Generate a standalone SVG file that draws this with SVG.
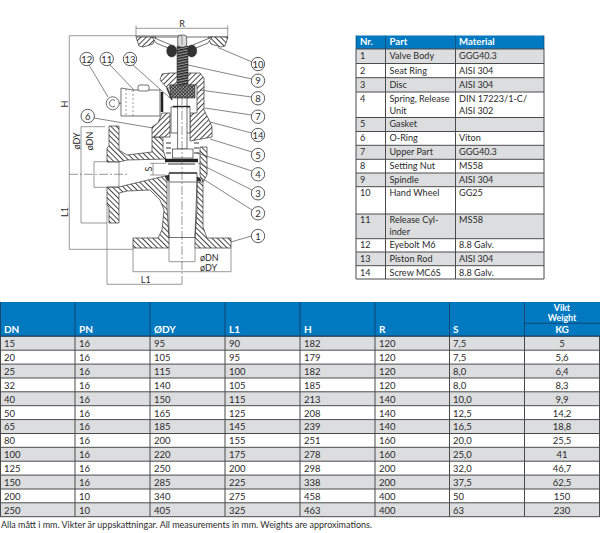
<svg xmlns="http://www.w3.org/2000/svg" width="600" height="533" viewBox="0 0 600 533">
<style>
text{font-family:Lato,"Noto Sans","Liberation Sans",sans-serif;font-size:9.5px;fill:#2b2b2b}
#parts-table text{font-size:9.1px}
#parts-table text.h{font-size:9.6px}
#dimension-labels text{font-size:9px}
.h{font-weight:700;fill:#fff;font-size:10px}
.v{font-size:8.8px}
.m{text-anchor:middle}
.g{fill:#dcdddf}
.hd{fill:#0079c1}
.gl{stroke:#4a4a4a;stroke-width:1;fill:none}
.hl{stroke:#12476e;stroke-width:1;fill:none}
.p{stroke:#333;stroke-width:.7;fill:none}
.d{stroke:#555;stroke-width:.6;fill:none}
.hb{fill:url(#hb);stroke:#333;stroke-width:.7}
.hf{fill:url(#hf);stroke:#333;stroke-width:.7}
.w{fill:#fff;stroke:#333;stroke-width:.7}
.k{fill:#333;stroke:#222;stroke-width:.5}
.c{fill:#fff;stroke:#333;stroke-width:.8}
.l{stroke:#333;stroke-width:.6;fill:none}
.a{stroke:#555;stroke-width:.6;stroke-dasharray:9 2 2 2;fill:none}
</style>
<defs>
<pattern id="hb" width="3.8" height="3.8" patternUnits="userSpaceOnUse" patternTransform="rotate(-45)"><rect width="3.8" height="3.8" fill="#fff"/><line x1=".5" y1="0" x2=".5" y2="3.8" stroke="#333" stroke-width=".9"/></pattern>
<pattern id="hf" width="3.8" height="3.8" patternUnits="userSpaceOnUse" patternTransform="rotate(45)"><rect width="3.8" height="3.8" fill="#fff"/><line x1=".5" y1="0" x2=".5" y2="3.8" stroke="#333" stroke-width=".9"/></pattern>
<pattern id="th" width="4" height="2.6" patternUnits="userSpaceOnUse" patternTransform="rotate(-12)"><rect width="4" height="2.6" fill="#999"/><rect width="4" height="1.4" fill="#222"/></pattern>
<pattern id="xh" width="2.4" height="2.4" patternUnits="userSpaceOnUse" patternTransform="rotate(45)"><rect width="2.4" height="2.4" fill="#aaa"/><rect width="1" height="2.4" fill="#333"/><rect width="2.4" height=".7" fill="#333"/></pattern>
</defs>
<rect width="600" height="533" fill="#fff"/>

<g id="valve">
<path class="hb" d="M109 126L119 126L119 150L127 155L152 152L152 137L163 137L163 150L166 159L127 160L119 162L107 162L107 148L109 146Z"/>
<path class="hb" d="M107 187L119 187L127 185L165 176L167 180L167 207L169 237L169 248L133 248L133 238L158 238L162 230L164 210L160 200L150 190L127 191L119 193L119 223L109 223L109 207L107 205Z"/>
<path class="hb" d="M197 182L203 182L203 227L207 238L231 238L231 248L195 248L195 237L197 210Z"/>
<path class="hb" d="M200 147L207 147L207 175L203 182L200 175Z"/>
<path class="hf" d="M162 74L170 73L200 73L204 78L204 110L210 122L212 127L212 137L190 141L190 113L197 113L197 85L170 85L170 88L167 88L160 80Z"/>
<path class="hf" d="M170 113L170 137L152 137L152 127L158 123L162 113Z"/>
<!-- handwheel -->
<path class="p" d="M136 37L228 37"/>
<path class="hf" d="M136 37L156 37L153 44L143 47L139 46Z"/>
<path class="hb" d="M228 37L208 37L211 44L221 47L225 46Z"/>
<path class="w" d="M152 37L171 45L175 50L168 48L156 43Z"/>
<path class="w" d="M212 37L193 45L189 50L196 48L208 43Z"/>
<ellipse class="k" cx="171.700" cy="51" rx="5" ry="6"/>
<ellipse class="k" cx="191.700" cy="51" rx="5" ry="6"/>
<rect x="177" y="46" width="11" height="52" fill="url(#th)" stroke="#222" stroke-width=".5"/>
<rect class="w" x="177.700" y="35" width="9" height="12" rx="3" style="fill:#ddd"/>
<!-- setting nut -->
<rect x="170" y="85" width="25" height="13" fill="url(#xh)" stroke="#333" stroke-width=".6"/>
<!-- stem -->
<rect class="w" x="171" y="107" width="19" height="26"/>
<rect class="w" x="177.700" y="98" width="9.300" height="51"/>
<path d="M173 106.500L190 106.500" stroke="#222" stroke-width="1.400"/>
<!-- spring -->
<g stroke="#333" stroke-width="1.200" fill="none"><path d="M166 143h5M166 148h5M166 153h5M194 143h5M194 148h5M194 153h5"/></g>
<rect class="w" x="172.500" y="149" width="20.500" height="9"/>
<path d="M165 160.500L198 160.500" stroke="#222" stroke-width="3.400"/>
<path d="M168 164L195 164" stroke="#333" stroke-width="1"/>
<!-- seat -->
<path class="w" d="M169 173L197 173L197 182L169 182Z"/>
<path d="M169 173L197 173" stroke="#222" stroke-width="1.200"/>
<path class="k" d="M165 176L169 175L169 181L167 180Z"/>
<path class="k" d="M197 177L200 178L201 181L197 181Z"/>
<path class="p" d="M169 182L169 237M197 182L195 237M169 237.500L195 237.500"/>
<!-- cylinder -->
<path class="w" d="M121 88L133 90L160 90L160 116L133 116L121 116Z"/>
<path class="d" d="M133 90L133 116" stroke-dasharray="2 2"/>
<path class="d" d="M126 89L126 116" stroke-dasharray="2 2"/>
<rect class="w" x="138" y="85" width="11" height="6" rx="2"/>
<path d="M162 92L162 112" stroke="#222" stroke-width="2.500"/>
<path d="M167 88L172 100" stroke="#333" stroke-width="1.500"/>
<circle class="w" cx="112.700" cy="103.300" r="6.500"/>
<path class="p" d="M115 100.500A3.500 3.500 0 1 0 115 106"/>
<path class="p" d="M119 103.300L121 103.300"/>
</g>

<g id="connectors">
<path class="a" d="M182 36L182 284"/>
<path class="a" d="M69 174.300L127 174.300"/>
<path class="d" d="M136 28.300L227.700 28.300M136 25.500L136 37M227.700 25.500L227.700 37"/>
<path class="d" d="M69.300 35.700L182 35.700M69.300 35.700L69.300 249.300M69.300 249.300L133 249.300"/>
<path class="d" d="M81 126.700L81 223M81 126.700L105 126.700M81 223L107 223"/>
<path class="d" d="M94 161.700L94 187.300M94 161.700L119 161.700M94 187.300L119 187.300"/>
<path class="d" d="M119 162L119 187"/>
<path class="d" d="M150 163.300L166 163.300M150 175L166 175M153 163.300L153 175"/>
<path class="d" d="M169 248L169 261.700M195 248L195 261.700M169 261.700L195 261.700"/>
<path class="d" d="M133 248L133 271.700M231 248L231 271.700M133 271.700L231 271.700"/>
<path class="d" d="M107 205L107 284.300M107 284.300L182 284.300"/>
<path class="l" d="M252 62L218 47.500M252 79L188 65M251.500 97L200 90M251.500 115L205 108M251.500 133L210 122M252 152L210 139M252 171L197 153M252 190L198 163M252 210L200 177M251.500 236L231 242M89 65L108 97M110 65L134 90M133 65L170 98M94 118L153 128"/>
</g>

<g id="dimension-labels">
<text x="182" y="26.500" class="m">R</text>
<text transform="translate(68 104) rotate(-90)" class="m">H</text>
<text transform="translate(68 212) rotate(-90)" class="m">L1</text>
<text transform="translate(80 141) rotate(-90)" class="m">øDY</text>
<text transform="translate(93 141) rotate(-90)" class="m">øDN</text>
<text transform="translate(152 169) rotate(-90)" class="m">S</text>
<text x="200" y="260.500">øDN</text>
<text x="200" y="270.500">øDY</text>
<text x="145.700" y="282.500" class="m">L1</text>
</g>

<g id="callout-1"><circle class="c" cx="258" cy="236" r="6.700"/><text x="258" y="239.500" class="m">1</text></g>
<g id="callout-2"><circle class="c" cx="258" cy="213.300" r="6.700"/><text x="258" y="216.800" class="m">2</text></g>
<g id="callout-3"><circle class="c" cx="258" cy="193.300" r="6.700"/><text x="258" y="196.800" class="m">3</text></g>
<g id="callout-4"><circle class="c" cx="258" cy="174.300" r="6.700"/><text x="258" y="177.800" class="m">4</text></g>
<g id="callout-5"><circle class="c" cx="258" cy="155" r="6.700"/><text x="258" y="158.500" class="m">5</text></g>
<g id="callout-14"><circle class="c" cx="258" cy="135" r="6.700"/><text x="258" y="138.500" class="m">14</text></g>
<g id="callout-7"><circle class="c" cx="258" cy="116.700" r="6.700"/><text x="258" y="120.200" class="m">7</text></g>
<g id="callout-8"><circle class="c" cx="258" cy="98.300" r="6.700"/><text x="258" y="101.800" class="m">8</text></g>
<g id="callout-9"><circle class="c" cx="258" cy="80.700" r="6.700"/><text x="258" y="84.200" class="m">9</text></g>
<g id="callout-10"><circle class="c" cx="258" cy="64" r="6.700"/><text x="258" y="67.500" class="m">10</text></g>
<g id="callout-12"><circle class="c" cx="86.700" cy="59" r="6.700"/><text x="86.700" y="62.500" class="m">12</text></g>
<g id="callout-11"><circle class="c" cx="106.700" cy="59" r="6.700"/><text x="106.700" y="62.500" class="m">11</text></g>
<g id="callout-13"><circle class="c" cx="130" cy="59" r="6.700"/><text x="130" y="62.500" class="m">13</text></g>
<g id="callout-6"><circle class="c" cx="87.700" cy="116" r="6.700"/><text x="87.700" y="119.500" class="m">6</text></g>

<g id="parts-table">
<rect class="hd" x="356" y="35.500" width="188" height="13.500"/>
<rect class="g" x="356" y="49" width="188" height="14.500"/>
<rect class="g" x="356" y="77.700" width="188" height="14.300"/>
<rect class="g" x="356" y="117.500" width="188" height="14"/>
<rect class="g" x="356" y="145.300" width="188" height="14"/>
<rect class="g" x="356" y="173" width="188" height="13.700"/>
<rect class="g" x="356" y="214" width="188" height="24.700"/>
<rect class="g" x="356" y="252" width="188" height="13.700"/>
<path class="gl" d="M356 49H544M356 63.500H544M356 77.700H544M356 92H544M356 117.500H544M356 131.500H544M356 145.300H544M356 159.300H544M356 173H544M356 186.700H544M356 214H544M356 238.700H544M356 252H544M356 265.700H544M356 279H544M356 49V279M385.500 49V279M455.500 49V279M544 49V279"/>
<path class="hl" d="M356 35.500V49M385.500 35.500V49M455.500 35.500V49M544 35.500V49" style="stroke-opacity:.7"/>
<text class="h" x="360" y="45">Nr.</text><text class="h" x="389.500" y="45">Part</text><text class="h" x="459" y="45">Material</text>
<text x="360" y="59.300">1</text><text x="389.500" y="59.300">Valve Body</text><text x="459" y="59.300">GGG40.3</text>
<text x="360" y="73.500">2</text><text x="389.500" y="73.500">Seat Ring</text><text x="459" y="73.500">AISI 304</text>
<text x="360" y="88">3</text><text x="389.500" y="88">Disc</text><text x="459" y="88">AISI 304</text>
<text x="360" y="101.700">4</text><text x="389.500" y="101.700">Spring, Release</text><text x="459" y="101.700">DIN 17223/1-C/</text>
<text x="389.500" y="113.500">Unit</text><text x="459" y="113.500">AISI 302</text>
<text x="360" y="127.300">5</text><text x="389.500" y="127.300">Gasket</text>
<text x="360" y="141.300">6</text><text x="389.500" y="141.300">O-Ring</text><text x="459" y="141.300">Viton</text>
<text x="360" y="155.300">7</text><text x="389.500" y="155.300">Upper Part</text><text x="459" y="155.300">GGG40.3</text>
<text x="360" y="169.300">8</text><text x="389.500" y="169.300">Setting Nut</text><text x="459" y="169.300">MS58</text>
<text x="360" y="183">9</text><text x="389.500" y="183">Spindle</text><text x="459" y="183">AISI 304</text>
<text x="360" y="196">10</text><text x="389.500" y="196">Hand Wheel</text><text x="459" y="196">GG25</text>
<text x="360" y="222.700">11</text><text x="389.500" y="222.700">Release Cyl-</text><text x="459" y="222.700">MS58</text>
<text x="389.500" y="235">inder</text>
<text x="360" y="248.300">12</text><text x="389.500" y="248.300">Eyebolt M6</text><text x="459" y="248.300">8.8 Galv.</text>
<text x="360" y="262">13</text><text x="389.500" y="262">Piston Rod</text><text x="459" y="262">AISI 304</text>
<text x="360" y="275.500">14</text><text x="389.500" y="275.500">Screw MC6S</text><text x="459" y="275.500">8.8 Galv.</text>
</g>

<g id="dimension-table">
<rect class="hd" x="0" y="302" width="600" height="34"/>
<rect class="g" x="0" y="336.300" width="600" height="13.900"/>
<rect class="g" x="0" y="364.100" width="600" height="13.900"/>
<rect class="g" x="0" y="391.800" width="600" height="13.900"/>
<rect class="g" x="0" y="419.600" width="600" height="13.900"/>
<rect class="g" x="0" y="447.300" width="600" height="13.900"/>
<rect class="g" x="0" y="475.100" width="600" height="13.900"/>
<rect class="g" x="0" y="502.800" width="600" height="13.900"/>
<path class="gl" d="M0 336.300H600M0 350.200H600M0 364.100H600M0 378H600M0 391.800H600M0 405.700H600M0 419.600H600M0 433.500H600M0 447.300H600M0 461.200H600M0 475.100H600M0 489H600M0 502.800H600M0 516.700H600M.5 336V516.700M75 336V516.700M150 336V516.700M225 336V516.700M300 336V516.700M375 336V516.700M449.500 336V516.700M524.500 336V516.700M599.500 336V516.700"/>
<path class="hl" d="M.5 302V336M75 302V336M150 302V336M225 302V336M300 302V336M375 302V336M449.500 302V336M524.500 302V336M524.500 323.300H600M0 336H600"/>
<text class="h" x="4" y="332.700">DN</text><text class="h" x="79" y="332.700">PN</text><text class="h" x="154" y="332.700">ØDY</text><text class="h" x="229" y="332.700">L1</text><text class="h" x="304" y="332.700">H</text><text class="h" x="379" y="332.700">R</text><text class="h" x="453" y="332.700">S</text>
<text class="h m v" x="562" y="310.500" style="font-size:8.800px">Vikt</text><text class="h m v" x="562" y="320.500" style="font-size:8.800px">Weight</text><text class="h m" x="562" y="332.700">KG</text>
<text x="4" y="347">15</text><text x="79" y="347">16</text><text x="154" y="347">95</text><text x="229" y="347">90</text><text x="304" y="347">182</text><text x="379" y="347">120</text><text x="453" y="347">7,5</text><text class="m" x="562" y="347">5</text>
<text x="4" y="361">20</text><text x="79" y="361">16</text><text x="154" y="361">105</text><text x="229" y="361">95</text><text x="304" y="361">179</text><text x="379" y="361">120</text><text x="453" y="361">7,5</text><text class="m" x="562" y="361">5,6</text>
<text x="4" y="374.800">25</text><text x="79" y="374.800">16</text><text x="154" y="374.800">115</text><text x="229" y="374.800">100</text><text x="304" y="374.800">182</text><text x="379" y="374.800">120</text><text x="453" y="374.800">8,0</text><text class="m" x="562" y="374.800">6,4</text>
<text x="4" y="388.700">32</text><text x="79" y="388.700">16</text><text x="154" y="388.700">140</text><text x="229" y="388.700">105</text><text x="304" y="388.700">185</text><text x="379" y="388.700">120</text><text x="453" y="388.700">8,0</text><text class="m" x="562" y="388.700">8,3</text>
<text x="4" y="402.600">40</text><text x="79" y="402.600">16</text><text x="154" y="402.600">150</text><text x="229" y="402.600">115</text><text x="304" y="402.600">213</text><text x="379" y="402.600">140</text><text x="453" y="402.600">10,0</text><text class="m" x="562" y="402.600">9,9</text>
<text x="4" y="416.500">50</text><text x="79" y="416.500">16</text><text x="154" y="416.500">165</text><text x="229" y="416.500">125</text><text x="304" y="416.500">208</text><text x="379" y="416.500">140</text><text x="453" y="416.500">12,5</text><text class="m" x="562" y="416.500">14,2</text>
<text x="4" y="430.400">65</text><text x="79" y="430.400">16</text><text x="154" y="430.400">185</text><text x="229" y="430.400">145</text><text x="304" y="430.400">239</text><text x="379" y="430.400">140</text><text x="453" y="430.400">16,5</text><text class="m" x="562" y="430.400">18,8</text>
<text x="4" y="444.300">80</text><text x="79" y="444.300">16</text><text x="154" y="444.300">200</text><text x="229" y="444.300">155</text><text x="304" y="444.300">251</text><text x="379" y="444.300">160</text><text x="453" y="444.300">20,0</text><text class="m" x="562" y="444.300">25,5</text>
<text x="4" y="458.100">100</text><text x="79" y="458.100">16</text><text x="154" y="458.100">220</text><text x="229" y="458.100">175</text><text x="304" y="458.100">278</text><text x="379" y="458.100">160</text><text x="453" y="458.100">25,0</text><text class="m" x="562" y="458.100">41</text>
<text x="4" y="472">125</text><text x="79" y="472">16</text><text x="154" y="472">250</text><text x="229" y="472">200</text><text x="304" y="472">298</text><text x="379" y="472">200</text><text x="453" y="472">32,0</text><text class="m" x="562" y="472">46,7</text>
<text x="4" y="485.900">150</text><text x="79" y="485.900">16</text><text x="154" y="485.900">285</text><text x="229" y="485.900">225</text><text x="304" y="485.900">338</text><text x="379" y="485.900">200</text><text x="453" y="485.900">37,5</text><text class="m" x="562" y="485.900">62,5</text>
<text x="4" y="499.800">200</text><text x="79" y="499.800">10</text><text x="154" y="499.800">340</text><text x="229" y="499.800">275</text><text x="304" y="499.800">458</text><text x="379" y="499.800">400</text><text x="453" y="499.800">50</text><text class="m" x="562" y="499.800">150</text>
<text x="4" y="513.600">250</text><text x="79" y="513.600">10</text><text x="154" y="513.600">405</text><text x="229" y="513.600">325</text><text x="304" y="513.600">463</text><text x="379" y="513.600">400</text><text x="453" y="513.600">63</text><text class="m" x="562" y="513.600">230</text>
</g>
<text id="footnote" x="1" y="528" textLength="371" lengthAdjust="spacingAndGlyphs">Alla mått i mm. Vikter är uppskattningar. All measurements in mm. Weights are approximations.</text>
</svg>
